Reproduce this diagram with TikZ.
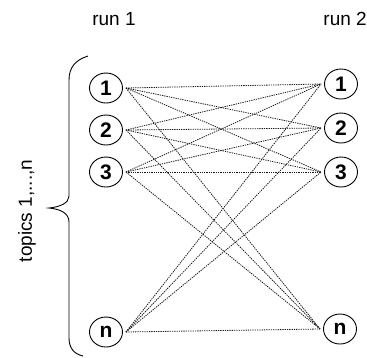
\documentclass[tikz,border=0pt]{standalone}
\usepackage{fontspec}
\setmainfont{Liberation Sans}
\usetikzlibrary{shapes.geometric}
\begin{document}
\begin{tikzpicture}[x=1pt,y=-1pt,
 topic/.style={ellipse,draw,line width=0.9pt,minimum width=33pt,minimum height=30pt,inner sep=0pt,font=\fontsize{21}{21}\selectfont\bfseries},
 lbl/.style={font=\fontsize{19}{19}\selectfont,inner sep=0pt},
 link/.style={line width=0.8pt,dash pattern=on 1.3pt off 1pt,black!90},
 bracestyle/.style={line width=0.9pt}]
\useasboundingbox (0,0) rectangle (367,357);
\node[lbl] (run1) at (114,19) {run 1};
\node[lbl,anchor=east] (run2) at (367,19) {run 2};
\node[lbl,rotate=90] (topics) at (27,211) {topics 1,...,n};
\node[topic] (L1) at (106,88) {1};
\node[topic] (L2) at (106,130) {2};
\node[topic] (L3) at (106,172) {3};
\node[topic] (Ln) at (106,332) {n};
\node[topic] (R1) at (341,84) {1};
\node[topic] (R2) at (341,128) {2};
\node[topic] (R3) at (341,172) {3};
\node[topic] (Rn) at (340,329) {n};
\foreach \a in {L1,L2,L3,Ln}{
  \foreach \b in {R1,R2,R3,Rn}{
    \draw[link] ([xshift=3pt]\a.east) -- ([xshift=-3pt]\b.west);
  }
}
\draw[bracestyle] (88,56) .. controls (75,60) and (69,68) .. (69,80) -- (69,196)
  .. controls (69,203) and (60,207) .. (49,208)
  .. controls (60,209) and (69,213) .. (69,222) -- (69,338)
  .. controls (69,348) and (74,354) .. (83,356);
\end{tikzpicture}
\end{document}
